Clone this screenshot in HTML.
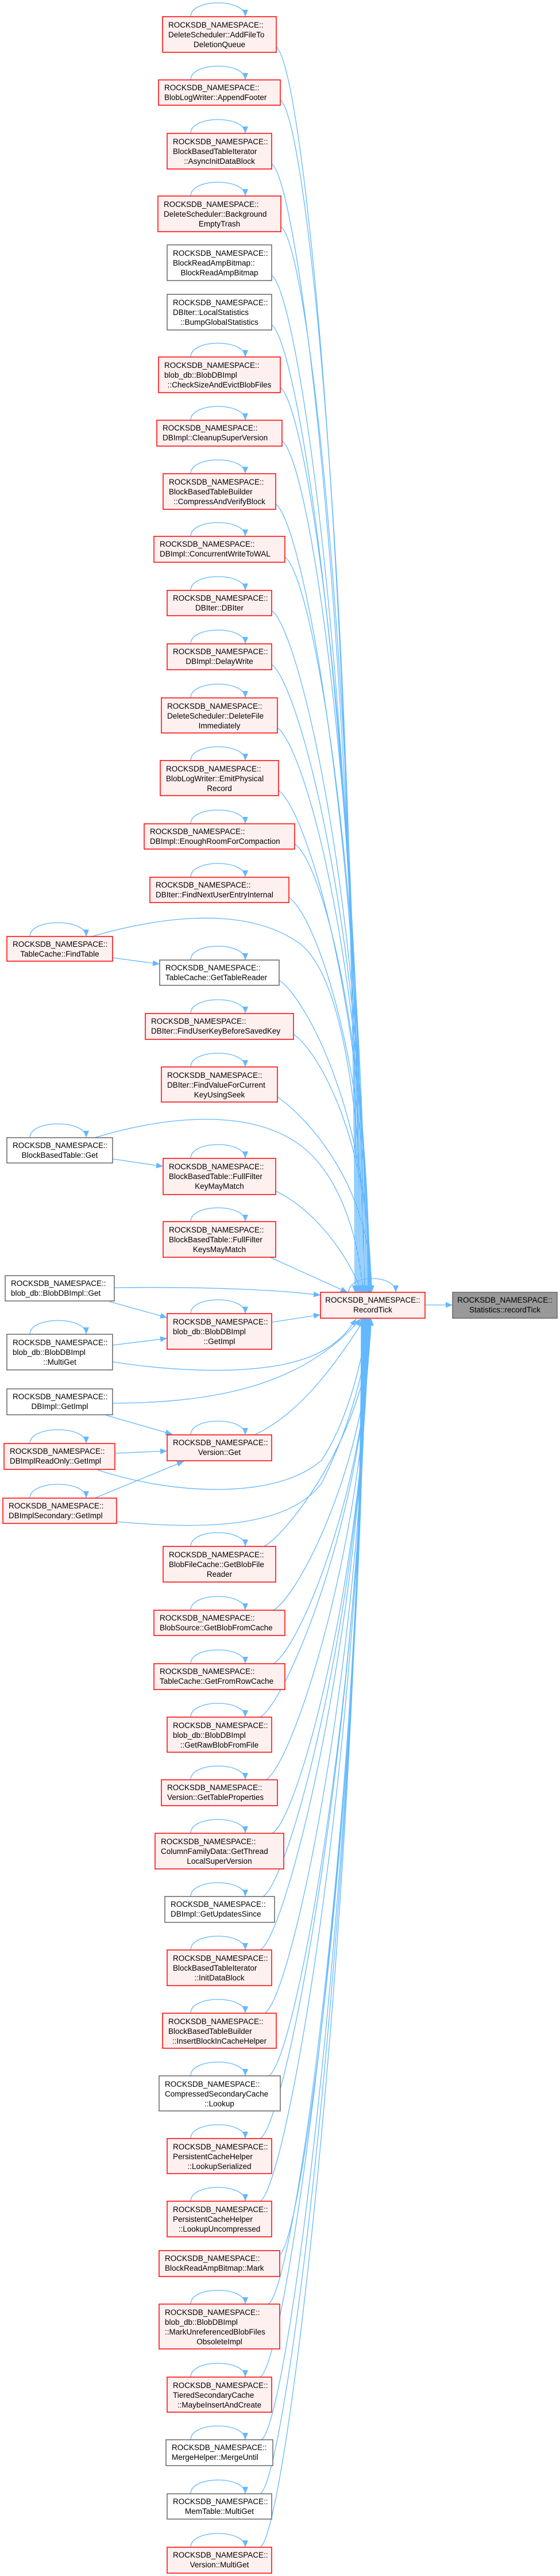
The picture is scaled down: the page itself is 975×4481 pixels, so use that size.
<!DOCTYPE html>
<html><head><meta charset="utf-8"><style>
html,body{margin:0;padding:0;background:#fff;}
svg{display:block;}
text{font-family:"Liberation Sans","DejaVu Sans",sans-serif;font-size:13.5px;fill:#000;}
.r{fill:#fff0f0;stroke:#ff0000;stroke-width:1.5;}
.w{fill:#fff;stroke:#666;stroke-width:1.5;}
.g{fill:#999;stroke:#666;stroke-width:1.5;}
.e{fill:none;stroke:#63b8ff;stroke-width:1.3;marker-end:url(#a);}
.m{text-anchor:middle;}
</style></head><body>
<svg width="975" height="4481" viewBox="0 0 975 4481" xmlns="http://www.w3.org/2000/svg">
<defs><marker id="a" markerUnits="userSpaceOnUse" markerWidth="12" markerHeight="10" refX="12" refY="5" orient="auto"><path d="M0,0 L12,5 L0,10 z" fill="#63b8ff"/></marker></defs>

<!-- edges upper -->
<path class="e" d="M481,82 C531,117 618,1057 618,2248"/>
<path class="e" d="M488,174 C538,209 620,1107 620,2248"/>
<path class="e" d="M473,285 C523,320 622,1168 622,2248"/>
<path class="e" d="M489,394 C539,429 624,1228 624,2248"/>
<path class="e" d="M473,479 C523,514 626,1275 626,2248"/>
<path class="e" d="M473,565 C523,600 628,1322 628,2248"/>
<path class="e" d="M488,674 C538,709 630,1382 630,2248"/>
<path class="e" d="M491,767 C541,802 632,1433 632,2248"/>
<path class="e" d="M480,877 C530,912 634,1494 634,2248"/>
<path class="e" d="M496,969 C546,1004 636,1545 636,2248"/>
<path class="e" d="M473,1062 C523,1097 638,1596 638,2248"/>
<path class="e" d="M473,1156 C523,1191 640,1647 640,2248"/>
<path class="e" d="M483,1266 C533,1301 641,1708 641,2248"/>
<path class="e" d="M485,1375 C535,1410 642,1768 642,2248"/>
<path class="e" d="M513,1468 C563,1503 643,1819 643,2248"/>
<path class="e" d="M503,1561 C553,1596 644,1870 644,2248"/>
<path class="e" d="M486,1705 C536,1740 645,1949 645,2248"/>
<path class="e" d="M511,1799 C561,1834 646,2001 646,2248"/>
<path class="e" d="M483,1908 C533,1943 647,2061 647,2248"/>
<path class="e" d="M160,1629 C260,1600 420,1570 520,1640 C590,1690 630,1900 635,2248"/>
<path class="e" d="M196,1666 L278,1677"/>
<path class="e" d="M165,1979 C260,1950 420,1920 520,1990 C590,2040 625,2150 632,2248"/>
<path class="e" d="M196,2016 L284,2029"/>
<path class="e" d="M480,2072 C540,2100 600,2170 630,2248"/>
<path class="e" d="M470,2187 L605,2248"/>
<path class="e" d="M199,2240 C350,2238 480,2243 558,2253"/>
<path class="e" d="M190,2264 L291,2292"/>
<path class="e" d="M473,2300 L558,2287"/>
<path class="e" d="M196,2340 L291,2328"/>
<path class="e" d="M196,2369 C300,2385 450,2395 540,2360 C590,2340 610,2310 620,2294"/>
<path class="e" d="M196,2441 C350,2440 520,2420 628,2294"/>
<path class="e" d="M185,2462 L300,2495"/>
<path class="e" d="M443,2496 C520,2460 580,2380 635,2294"/>
<path class="e" d="M200,2528 L291,2524"/>
<path class="e" d="M170,2557 C300,2600 480,2610 560,2540 C600,2480 630,2380 640,2294"/>
<path class="e" d="M165,2606 L320,2542"/>
<path class="e" d="M203,2647 C350,2660 500,2660 560,2580 C600,2500 635,2400 643,2294"/>
<path class="e" d="M740,2270 L788,2270"/>
<!-- edges lower -->
<path class="e" d="M460,2690 C510,2660 646,2472 646,2294"/>
<path class="e" d="M476,2801 C526,2771 645,2522 645,2294"/>
<path class="e" d="M476,2894 C526,2864 644,2563 644,2294"/>
<path class="e" d="M453,2987 C503,2957 643,2607 643,2294"/>
<path class="e" d="M463,3096 C513,3066 642,2654 642,2294"/>
<path class="e" d="M474,3189 C524,3159 641,2696 641,2294"/>
<path class="e" d="M458,3299 C508,3269 640,2747 640,2294"/>
<path class="e" d="M453,3392 C503,3362 639,2788 639,2294"/>
<path class="e" d="M461,3502 C511,3472 638,2837 638,2294"/>
<path class="e" d="M468,3611 C518,3581 637,2886 637,2294"/>
<path class="e" d="M453,3720 C503,3690 636,2935 636,2294"/>
<path class="e" d="M453,3829 C503,3799 635,2984 635,2294"/>
<path class="e" d="M487,3922 C530,3895 634,3027 634,2294"/>
<path class="e" d="M467,4008 C517,3978 633,3063 633,2294"/>
<path class="e" d="M453,4135 C503,4105 632,3122 632,2294"/>
<path class="e" d="M455,4244 C505,4214 631,3171 631,2294"/>
<path class="e" d="M453,4338 C503,4308 630,3214 630,2294"/>
<path class="e" d="M453,4431 C503,4401 629,3257 629,2294"/>

<!-- self loops -->
<path class="e" d="M332,29 C332,-3 427,-3 427,29"/>
<path class="e" d="M332,139 C332,107 427,107 427,139"/>
<path class="e" d="M332,232 C332,200 427,200 427,232"/>
<path class="e" d="M332,341 C332,309 427,309 427,341"/>
<path class="e" d="M332,621 C332,589 427,589 427,621"/>
<path class="e" d="M332,731 C332,699 427,699 427,731"/>
<path class="e" d="M332,824 C332,792 427,792 427,824"/>
<path class="e" d="M332,933 C332,901 427,901 427,933"/>
<path class="e" d="M332,1027 C332,995 427,995 427,1027"/>
<path class="e" d="M332,1120 C332,1088 427,1088 427,1120"/>
<path class="e" d="M332,1214 C332,1182 427,1182 427,1214"/>
<path class="e" d="M332,1323 C332,1291 427,1291 427,1323"/>
<path class="e" d="M332,1433 C332,1401 427,1401 427,1433"/>
<path class="e" d="M332,1526 C332,1494 427,1494 427,1526"/>
<path class="e" d="M52,1629 C52,1597 150,1597 150,1629"/>
<path class="e" d="M332,1670 C332,1638 427,1638 427,1670"/>
<path class="e" d="M332,1763 C332,1731 427,1731 427,1763"/>
<path class="e" d="M332,1856 C332,1824 427,1824 427,1856"/>
<path class="e" d="M52,1979 C52,1947 150,1947 150,1979"/>
<path class="e" d="M332,2015 C332,1983 427,1983 427,2015"/>
<path class="e" d="M332,2125 C332,2093 427,2093 427,2125"/>
<path class="e" d="M607,2248 C607,2216 689,2216 689,2248"/>
<path class="e" d="M332,2285 C332,2253 427,2253 427,2285"/>
<path class="e" d="M52,2321 C52,2289 150,2289 150,2321"/>
<path class="e" d="M332,2496 C332,2464 427,2464 427,2496"/>
<path class="e" d="M52,2511 C52,2479 150,2479 150,2511"/>
<path class="e" d="M52,2606 C52,2574 150,2574 150,2606"/>
<path class="e" d="M332,2690 C332,2658 427,2658 427,2690"/>
<path class="e" d="M332,2801 C332,2769 427,2769 427,2801"/>
<path class="e" d="M332,2894 C332,2862 427,2862 427,2894"/>
<path class="e" d="M332,2987 C332,2955 427,2955 427,2987"/>
<path class="e" d="M332,3096 C332,3064 427,3064 427,3096"/>
<path class="e" d="M332,3189 C332,3157 427,3157 427,3189"/>
<path class="e" d="M332,3299 C332,3267 427,3267 427,3299"/>
<path class="e" d="M332,3392 C332,3360 427,3360 427,3392"/>
<path class="e" d="M332,3502 C332,3470 427,3470 427,3502"/>
<path class="e" d="M332,3611 C332,3579 427,3579 427,3611"/>
<path class="e" d="M332,3720 C332,3688 427,3688 427,3720"/>
<path class="e" d="M332,3829 C332,3797 427,3797 427,3829"/>
<path class="e" d="M332,4008 C332,3976 427,3976 427,4008"/>
<path class="e" d="M332,4135 C332,4103 427,4103 427,4135"/>
<path class="e" d="M332,4244 C332,4212 427,4212 427,4244"/>
<path class="e" d="M332,4338 C332,4306 427,4306 427,4338"/>
<path class="e" d="M332,4431 C332,4399 427,4399 427,4431"/>

<!-- nodes -->
<rect class="r" x="283" y="29" width="198" height="62"/><text x="293" y="48">ROCKSDB_NAMESPACE::</text><text x="293" y="65">DeleteScheduler::AddFileTo</text><text class="m" x="382" y="82">DeletionQueue</text>
<rect class="r" x="276" y="139" width="212" height="44"/><text x="286" y="157">ROCKSDB_NAMESPACE::</text><text x="286" y="174">BlobLogWriter::AppendFooter</text>
<rect class="r" x="291" y="232" width="182" height="62"/><text x="301" y="251">ROCKSDB_NAMESPACE::</text><text x="301" y="268">BlockBasedTableIterator</text><text class="m" x="382" y="285">::AsyncInitDataBlock</text>
<rect class="r" x="275" y="341" width="214" height="62"/><text x="285" y="360">ROCKSDB_NAMESPACE::</text><text x="285" y="377">DeleteScheduler::Background</text><text class="m" x="382" y="394">EmptyTrash</text>
<rect class="w" x="291" y="426" width="182" height="62"/><text x="301" y="445">ROCKSDB_NAMESPACE::</text><text x="301" y="462">BlockReadAmpBitmap::</text><text class="m" x="382" y="479">BlockReadAmpBitmap</text>
<rect class="w" x="291" y="512" width="182" height="62"/><text x="301" y="531">ROCKSDB_NAMESPACE::</text><text x="301" y="548">DBIter::LocalStatistics</text><text class="m" x="382" y="565">::BumpGlobalStatistics</text>
<rect class="r" x="276" y="621" width="212" height="62"/><text x="286" y="640">ROCKSDB_NAMESPACE::</text><text x="286" y="657">blob_db::BlobDBImpl</text><text class="m" x="382" y="674">::CheckSizeAndEvictBlobFiles</text>
<rect class="r" x="273" y="731" width="218" height="45"/><text x="283" y="749">ROCKSDB_NAMESPACE::</text><text x="283" y="766">DBImpl::CleanupSuperVersion</text>
<rect class="r" x="284" y="824" width="196" height="62"/><text x="294" y="843">ROCKSDB_NAMESPACE::</text><text x="294" y="860">BlockBasedTableBuilder</text><text class="m" x="382" y="877">::CompressAndVerifyBlock</text>
<rect class="r" x="268" y="933" width="228" height="45"/><text x="278" y="951">ROCKSDB_NAMESPACE::</text><text x="278" y="968">DBImpl::ConcurrentWriteToWAL</text>
<rect class="r" x="291" y="1027" width="182" height="44"/><text x="301" y="1045">ROCKSDB_NAMESPACE::</text><text class="m" x="382" y="1062">DBIter::DBIter</text>
<rect class="r" x="291" y="1120" width="182" height="45"/><text x="301" y="1138">ROCKSDB_NAMESPACE::</text><text class="m" x="382" y="1155">DBImpl::DelayWrite</text>
<rect class="r" x="281" y="1214" width="202" height="61"/><text x="291" y="1233">ROCKSDB_NAMESPACE::</text><text x="291" y="1250">DeleteScheduler::DeleteFile</text><text class="m" x="382" y="1267">Immediately</text>
<rect class="r" x="279" y="1323" width="206" height="61"/><text x="289" y="1342">ROCKSDB_NAMESPACE::</text><text x="289" y="1359">BlobLogWriter::EmitPhysical</text><text class="m" x="382" y="1376">Record</text>
<rect class="r" x="251" y="1433" width="262" height="44"/><text x="261" y="1451">ROCKSDB_NAMESPACE::</text><text x="261" y="1468">DBImpl::EnoughRoomForCompaction</text>
<rect class="r" x="261" y="1526" width="242" height="44"/><text x="271" y="1544">ROCKSDB_NAMESPACE::</text><text x="271" y="1561">DBIter::FindNextUserEntryInternal</text>
<rect class="r" x="12" y="1629" width="184" height="43"/><text x="22" y="1647">ROCKSDB_NAMESPACE::</text><text class="m" x="104" y="1664">TableCache::FindTable</text>
<rect class="w" x="278" y="1670" width="208" height="44"/><text x="288" y="1688">ROCKSDB_NAMESPACE::</text><text x="288" y="1705">TableCache::GetTableReader</text>
<rect class="r" x="253" y="1763" width="258" height="45"/><text x="263" y="1781">ROCKSDB_NAMESPACE::</text><text x="263" y="1798">DBIter::FindUserKeyBeforeSavedKey</text>
<rect class="r" x="281" y="1856" width="202" height="61"/><text x="291" y="1875">ROCKSDB_NAMESPACE::</text><text x="291" y="1892">DBIter::FindValueForCurrent</text><text class="m" x="382" y="1909">KeyUsingSeek</text>
<rect class="w" x="12" y="1979" width="184" height="44"/><text x="22" y="1997">ROCKSDB_NAMESPACE::</text><text class="m" x="104" y="2014">BlockBasedTable::Get</text>
<rect class="r" x="284" y="2015" width="196" height="63"/><text x="294" y="2034">ROCKSDB_NAMESPACE::</text><text x="294" y="2051">BlockBasedTable::FullFilter</text><text class="m" x="382" y="2068">KeyMayMatch</text>
<rect class="r" x="284" y="2125" width="196" height="62"/><text x="294" y="2144">ROCKSDB_NAMESPACE::</text><text x="294" y="2161">BlockBasedTable::FullFilter</text><text class="m" x="382" y="2178">KeysMayMatch</text>
<rect class="w" x="9" y="2219" width="190" height="44"/><text x="19" y="2237">ROCKSDB_NAMESPACE::</text><text x="19" y="2254">blob_db::BlobDBImpl::Get</text>
<rect class="r" x="558" y="2248" width="182" height="45"/><text class="m" x="649" y="2266">ROCKSDB_NAMESPACE::</text><text class="m" x="649" y="2283">RecordTick</text>
<rect class="g" x="788" y="2248" width="182" height="45"/><text class="m" x="879" y="2266">ROCKSDB_NAMESPACE::</text><text class="m" x="879" y="2283">Statistics::recordTick</text>
<rect class="r" x="291" y="2285" width="182" height="62"/><text x="301" y="2304">ROCKSDB_NAMESPACE::</text><text x="301" y="2321">blob_db::BlobDBImpl</text><text class="m" x="382" y="2338">::GetImpl</text>
<rect class="w" x="12" y="2321" width="184" height="62"/><text x="22" y="2340">ROCKSDB_NAMESPACE::</text><text x="22" y="2357">blob_db::BlobDBImpl</text><text class="m" x="104" y="2374">::MultiGet</text>
<rect class="w" x="12" y="2416" width="184" height="45"/><text x="22" y="2434">ROCKSDB_NAMESPACE::</text><text class="m" x="104" y="2451">DBImpl::GetImpl</text>
<rect class="r" x="291" y="2496" width="182" height="45"/><text x="301" y="2514">ROCKSDB_NAMESPACE::</text><text class="m" x="382" y="2531">Version::Get</text>
<rect class="r" x="7" y="2511" width="193" height="45"/><text x="17" y="2529">ROCKSDB_NAMESPACE::</text><text x="17" y="2546">DBImplReadOnly::GetImpl</text>
<rect class="r" x="5" y="2606" width="198" height="44"/><text x="15" y="2624">ROCKSDB_NAMESPACE::</text><text x="15" y="2641">DBImplSecondary::GetImpl</text>
<rect class="r" x="284" y="2690" width="196" height="62"/><text x="294" y="2709">ROCKSDB_NAMESPACE::</text><text x="294" y="2726">BlobFileCache::GetBlobFile</text><text class="m" x="382" y="2743">Reader</text>
<rect class="r" x="268" y="2801" width="228" height="44"/><text x="278" y="2819">ROCKSDB_NAMESPACE::</text><text x="278" y="2836">BlobSource::GetBlobFromCache</text>
<rect class="r" x="268" y="2894" width="228" height="45"/><text x="278" y="2912">ROCKSDB_NAMESPACE::</text><text x="278" y="2929">TableCache::GetFromRowCache</text>
<rect class="r" x="291" y="2987" width="182" height="61"/><text x="301" y="3006">ROCKSDB_NAMESPACE::</text><text x="301" y="3023">blob_db::BlobDBImpl</text><text class="m" x="382" y="3040">::GetRawBlobFromFile</text>
<rect class="r" x="281" y="3096" width="202" height="45"/><text x="291" y="3114">ROCKSDB_NAMESPACE::</text><text x="291" y="3131">Version::GetTableProperties</text>
<rect class="r" x="270" y="3189" width="224" height="62"/><text x="280" y="3208">ROCKSDB_NAMESPACE::</text><text x="280" y="3225">ColumnFamilyData::GetThread</text><text class="m" x="382" y="3242">LocalSuperVersion</text>
<rect class="w" x="287" y="3299" width="191" height="45"/><text x="297" y="3317">ROCKSDB_NAMESPACE::</text><text x="297" y="3334">DBImpl::GetUpdatesSince</text>
<rect class="r" x="291" y="3392" width="182" height="62"/><text x="301" y="3411">ROCKSDB_NAMESPACE::</text><text x="301" y="3428">BlockBasedTableIterator</text><text class="m" x="382" y="3445">::InitDataBlock</text>
<rect class="r" x="283" y="3502" width="198" height="61"/><text x="293" y="3521">ROCKSDB_NAMESPACE::</text><text x="293" y="3538">BlockBasedTableBuilder</text><text class="m" x="382" y="3555">::InsertBlockInCacheHelper</text>
<rect class="w" x="277" y="3611" width="211" height="61"/><text x="287" y="3630">ROCKSDB_NAMESPACE::</text><text x="287" y="3647">CompressedSecondaryCache</text><text class="m" x="382" y="3664">::Lookup</text>
<rect class="r" x="291" y="3720" width="182" height="61"/><text x="301" y="3739">ROCKSDB_NAMESPACE::</text><text x="301" y="3756">PersistentCacheHelper</text><text class="m" x="382" y="3773">::LookupSerialized</text>
<rect class="r" x="291" y="3829" width="182" height="62"/><text x="301" y="3848">ROCKSDB_NAMESPACE::</text><text x="301" y="3865">PersistentCacheHelper</text><text class="m" x="382" y="3882">::LookupUncompressed</text>
<rect class="r" x="277" y="3915" width="210" height="45"/><text x="287" y="3933">ROCKSDB_NAMESPACE::</text><text x="287" y="3950">BlockReadAmpBitmap::Mark</text>
<rect class="r" x="277" y="4008" width="210" height="78"/><text x="287" y="4027">ROCKSDB_NAMESPACE::</text><text x="287" y="4044">blob_db::BlobDBImpl</text><text x="287" y="4061">::MarkUnreferencedBlobFiles</text><text class="m" x="382" y="4078">ObsoleteImpl</text>
<rect class="r" x="291" y="4135" width="182" height="61"/><text x="301" y="4154">ROCKSDB_NAMESPACE::</text><text x="301" y="4171">TieredSecondaryCache</text><text class="m" x="382" y="4188">::MaybeInsertAndCreate</text>
<rect class="w" x="289" y="4244" width="186" height="45"/><text x="299" y="4262">ROCKSDB_NAMESPACE::</text><text x="299" y="4279">MergeHelper::MergeUntil</text>
<rect class="w" x="291" y="4338" width="182" height="44"/><text x="301" y="4356">ROCKSDB_NAMESPACE::</text><text class="m" x="382" y="4373">MemTable::MultiGet</text>
<rect class="r" x="291" y="4431" width="182" height="45"/><text x="301" y="4449">ROCKSDB_NAMESPACE::</text><text class="m" x="382" y="4466">Version::MultiGet</text>
</svg>
</body></html>
